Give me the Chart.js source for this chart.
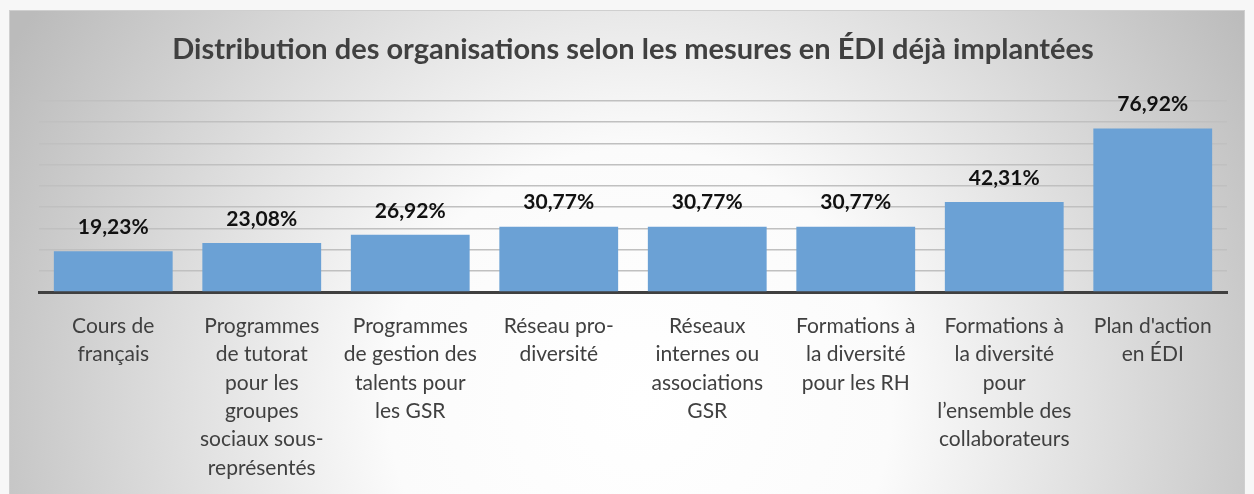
<!DOCTYPE html>
<html>
<head>
<meta charset="utf-8">
<script src="https://cdn.jsdelivr.net/npm/chart.js@4.4.1/dist/chart.umd.min.js"></script>
<style>
  body { margin: 0; background: #ffffff; }
  #wrap { position: relative; width: 1254px; height: 494px; }
</style>
</head>
<body>
<div id="wrap"><canvas id="chart"></canvas></div>
<script>
const categories = [
  ["Cours de", "français"],
  ["Programmes", "de tutorat", "pour les", "groupes", "sociaux sous-", "représentés"],
  ["Programmes", "de gestion des", "talents pour", "les GSR"],
  ["Réseau pro-", "diversité"],
  ["Réseaux", "internes ou", "associations", "GSR"],
  ["Formations à", "la diversité", "pour les RH"],
  ["Formations à", "la diversité", "pour", "l’ensemble des", "collaborateurs"],
  ["Plan d'action", "en ÉDI"],
];
const values = [19.23, 23.08, 26.92, 30.77, 30.77, 30.77, 42.31, 76.92];
const yMax = 90;
const yStep = 10;

const titleText = "Distribution des organisations selon les mesures en ÉDI déjà implantées";

const backgroundPlugin = {
  id: "background",
  beforeDraw: (chart) => {
    const ctx = chart.ctx;
    ctx.save();
    ctx.fillStyle = "#f7f7f7";
    ctx.fillRect(0, 0, chart.width, chart.height);
    const grad = ctx.createRadialGradient(640, 400, 0, 640, 400, 720);
    grad.addColorStop(0, "#ffffff");
    grad.addColorStop(0.35, "#fbfbfb");
    grad.addColorStop(1, "#bbbbbb");
    ctx.fillStyle = grad;
    ctx.fillRect(9, 10, 1236, 484);
    ctx.strokeStyle = "#cfcfcf";
    ctx.lineWidth = 1;
    ctx.strokeRect(9.5, 10.5, 1235, 484);
    ctx.restore();
  },
};

const valueLabels = {
  id: "valueLabels",
  afterDatasetsDraw: (chart) => {
    const ctx = chart.ctx;
    const meta = chart.getDatasetMeta(0);
    ctx.save();
    ctx.font = "bold 21px Lato";
    ctx.fillStyle = "#111111";
    ctx.textAlign = "center";
    ctx.textBaseline = "middle";
    meta.data.forEach((bar, i) => {
      const txt = values[i].toFixed(2).replace(".", ",") + "%";
      ctx.fillText(txt, bar.x, bar.y - 24);
    });
    ctx.restore();
  },
};

new Chart(document.getElementById("chart"), {
  type: "bar",
  data: {
    labels: categories,
    datasets: [
      {
        data: values,
        backgroundColor: "#6ba1d5",
        borderWidth: 0,
        categoryPercentage: 0.8,
        barPercentage: 1,
      },
    ],
  },
  options: {
    responsive: true,
    maintainAspectRatio: false,
    animation: false,
    layout: {
      padding: { top: 22, left: 39, right: 27, bottom: 0 },
    },
    plugins: {
      legend: { display: false },
      tooltip: { enabled: false },
      title: {
        display: true,
        text: titleText,
        color: "#404040",
        font: { family: "Lato", size: 29, weight: "bold", lineHeight: 1.2 },
        padding: { top: 10, bottom: 34 },
      },
    },
    scales: {
      x: {
        grid: { display: false },
        border: { display: true, color: "#404040", width: 3 },
        ticks: {
          color: "#404040",
          font: { family: "Lato", size: 21, lineHeight: 1.35 },
          padding: 12,
          maxRotation: 0,
          autoSkip: false,
        },
        afterFit: (scale) => {
          scale.height = 202;
        },
      },
      y: {
        min: 0,
        max: yMax,
        ticks: { display: false, stepSize: yStep },
        grid: { color: "#c0c0c0", lineWidth: 1.5, drawTicks: false },
        border: { display: false },
        afterFit: (scale) => {
          scale.width = 0;
        },
      },
    },
  },
  plugins: [backgroundPlugin, valueLabels],
});
</script>
</body>
</html>
